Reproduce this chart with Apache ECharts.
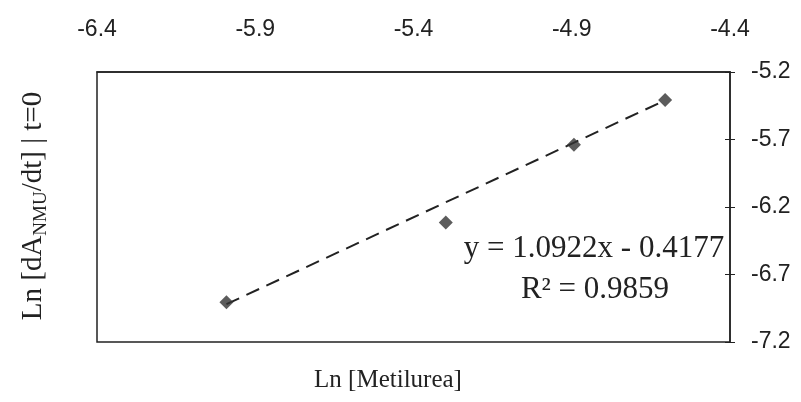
<!DOCTYPE html>
<html>
<head>
<meta charset="utf-8">
<script src="https://cdn.jsdelivr.net/npm/echarts@6/dist/echarts.min.js"></script>
<style>
  html, body { margin: 0; padding: 0; background: #fff; }
  #chart { width: 801px; height: 402px; }
</style>
</head>
<body>
<div id="chart"></div>
<script>
// datos
var lnMetilurea = [-5.991, -5.298, -4.893, -4.605];
var lnRate = [-6.905, -6.314, -5.739, -5.407];
// extremos de la recta de tendencia (leidos)
var trendX = [-5.991, -4.605];
var trendY = [-6.92, -5.41];
var xTicks = [-6.4, -5.9, -5.4, -4.9, -4.4];
var yTicks = [-7.2, -6.7, -6.2, -5.7, -5.2];
var eqText = 'y = 1.0922x - 0.4177';
var r2Text = 'R² = 0.9859';

var puntos = lnMetilurea.map(function (x, i) { return [x, lnRate[i]]; });
var recta = trendX.map(function (x, i) { return [x, trendY[i]]; });

var ink = '#222';
var serif = '"Liberation Serif", "Times New Roman", serif';
var sans = '"Liberation Sans", Arial, sans-serif';

var myChart = echarts.init(document.getElementById('chart'));
myChart.setOption({
    animation: false,
    backgroundColor: '#fff',
    grid: {
        left: 97, right: 71, top: 72, bottom: 60,
        show: true, borderColor: ink, borderWidth: 1.5
    },
    xAxis: {
        type: 'value', position: 'top',
        min: -6.4, max: -4.4,
        axisLine: { show: true, lineStyle: { color: ink, width: 1.5 } },
        axisTick: { show: false },
        splitLine: { show: false },
        axisLabel: {
            customValues: xTicks,
            formatter: function (v) { return v.toFixed(1); },
            color: ink, fontFamily: sans, fontSize: 23, margin: 31
        }
    },
    yAxis: [{
        type: 'value', position: 'right',
        min: -7.2, max: -5.2,
        axisLine: { show: true, lineStyle: { color: ink, width: 1.5 } },
        axisTick: { show: true, customValues: yTicks, length: 5, lineStyle: { color: ink } },
        splitLine: { show: false },
        axisLabel: {
            customValues: yTicks,
            formatter: function (v) { return v.toFixed(1); },
            color: ink, fontFamily: sans, fontSize: 23, margin: 21,
            padding: [0, 0, 10, 0]
        }
    }, {
        type: 'value', position: 'right',
        min: -7.2, max: -5.2,
        axisLine: { show: false },
        axisTick: { show: true, inside: true, customValues: yTicks, length: 5, lineStyle: { color: ink } },
        axisLabel: { show: false },
        splitLine: { show: false }
    }],
    series: [{
        type: 'line',
        data: recta,
        symbol: 'none',
        lineStyle: { color: ink, width: 2, type: [14, 8] },
        z: 2
    }, {
        type: 'scatter',
        data: puntos,
        symbol: 'diamond',
        symbolSize: [14, 14],
        itemStyle: { color: '#333' },
        z: 3
    }],
    graphic: [{
        type: 'text',
        x: 594, y: 249,
        style: {
            text: eqText, fill: ink, font: '31px ' + serif,
            textAlign: 'center', textVerticalAlign: 'middle'
        }
    }, {
        type: 'text',
        x: 595, y: 290,
        style: {
            text: r2Text, fill: ink, font: '31px ' + serif,
            textAlign: 'center', textVerticalAlign: 'middle'
        }
    }, {
        type: 'text',
        x: 388, y: 380,
        style: {
            text: 'Ln [Metilurea]', fill: ink, font: '25px ' + serif,
            textAlign: 'center', textVerticalAlign: 'middle'
        }
    }, {
        type: 'text',
        x: 33, y: 206,
        rotation: Math.PI / 2,
        style: {
            text: '{a|Ln [dA}{s|NMU}{a|/dt] | t=0}',
            fill: ink,
            align: 'center', verticalAlign: 'middle',
            rich: {
                a: { fontFamily: serif, fontSize: 29, color: ink },
                s: { fontFamily: serif, fontSize: 19, color: ink, verticalAlign: 'top', padding: [16, 0, 0, 0] }
            }
        }
    }]
});
</script>
</body>
</html>
